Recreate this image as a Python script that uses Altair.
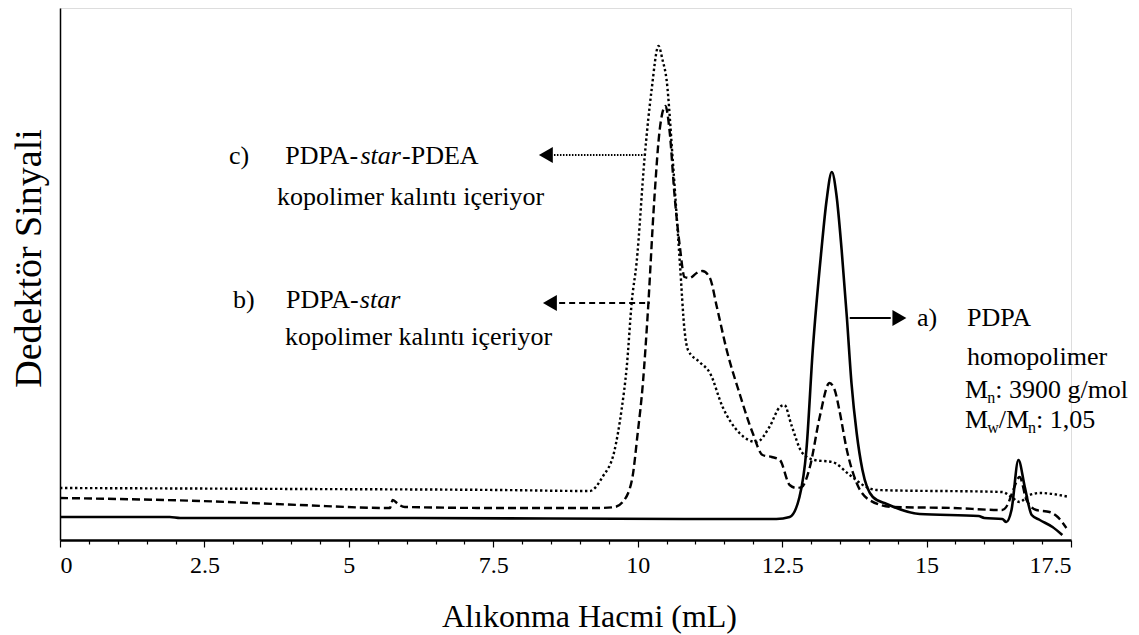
import altair as alt
import pandas as pd

# ---------------- data ----------------
# a) PDPA homopolimer (solid)
vol_a = [0.0, 1.9, 2.08, 5.88, 11.07, 12.40, 12.63, 12.80, 12.92, 13.03, 13.18, 13.27,
         13.36, 13.44, 13.53, 13.62, 13.70, 13.79, 13.89, 14.07, 14.31, 14.88, 15.9,
         16.0, 16.31, 16.38, 16.47, 16.59, 16.70, 16.82, 16.96, 17.18, 17.35]
sig_a = [23, 23, 22, 22, 21, 21, 23, 43, 90, 190, 290, 340,
         368, 345, 290, 223, 157, 107, 70, 43, 36, 26, 24,
         22, 21, 18, 30, 80, 53, 25, 20, 13, 5]

# b) PDPA-star (dashed)
vol_b = [0.0, 2.42, 4.15, 5.71, 5.76, 5.85, 5.97, 7.61, 9.34, 9.60, 9.74, 9.90, 10.0,
         10.09, 10.17, 10.29, 10.38, 10.48, 10.55, 10.64, 10.73, 10.81, 10.90, 11.02,
         11.12, 11.25, 11.37, 11.54, 11.76, 11.99, 12.16, 12.32, 12.46, 12.63, 12.75,
         12.84, 12.98, 13.15, 13.32, 13.41, 13.49, 13.62, 13.79, 14.01, 14.41, 15.45,
         16.31, 16.40, 16.50, 16.61, 16.73, 16.90, 17.13, 17.27, 17.42]
sig_b = [42, 39, 35, 32, 40, 36, 33, 32, 32, 33, 38, 60, 107,
         157, 223, 343, 410, 434, 410, 343, 293, 263, 262, 267,
         269, 262, 233, 190, 147, 107, 85, 83, 80, 55, 52,
         53, 73, 123, 157, 150, 130, 90, 57, 40, 33, 32,
         30, 35, 50, 63, 40, 30, 28, 23, 12]

# c) PDPA-star-PDEA (dotted)
vol_c = [0.0, 4.15, 7.61, 9.17, 9.39, 9.60, 9.72, 9.81, 9.90, 9.98, 10.12, 10.24,
         10.36, 10.43, 10.50, 10.61, 10.73, 10.81, 10.87, 11.07, 11.25, 11.47, 11.76,
         12.06, 12.28, 12.46, 12.54, 12.66, 12.85, 13.06, 13.37, 13.67, 13.96, 14.13,
         16.31, 16.47, 16.61, 16.78, 16.96, 17.47]
sig_c = [52, 51, 50, 49, 63, 90, 130, 173, 240, 277, 383, 450,
         494, 480, 460, 377, 277, 210, 190, 178, 167, 133, 107,
         98, 113, 133, 135, 115, 87, 80, 78, 65, 53, 50,
         48, 43, 38, 45, 47, 43]

# axis ticks
major_ticks = [0, 2.5, 5, 7.5, 10, 12.5, 15, 17.5]
minor_step = 0.5

# annotation texts (x in mL, y in signal units)
ann_text = ["c)", "PDPA-", "-PDEA", "kopolimer kalıntı içeriyor",
            "b)", "PDPA-", "kopolimer kalıntı içeriyor",
            "a)", "PDPA", "homopolimer", "M", ": 3900 g/mol", "M", "/M", ": 1,05"]
ann_x = [2.925, 3.90, 5.92, 3.756,
         2.995, 3.912, 3.895,
         14.834, 15.700, 15.700, 15.665, 16.188, 15.665, 16.25, 16.894]
ann_y = [376, 376, 376, 335,
         232, 232, 195,
         214, 214, 175, 142, 142, 112, 112, 112]

ital_text = ["star", "star"]
ital_x = [5.2, 5.19]
ital_y = [376, 232]

sub_text = ["n", "w", "n"]
sub_x = [16.05, 16.05, 16.756]
sub_y = [137, 107, 107]

# arrows: shaft start/end and head
arrow_id = ["c", "b", "a"]
arrow_x1 = [8.55, 8.64, 13.67]
arrow_x2 = [10.12, 10.21, 14.38]
arrow_y = [385, 237, 222]
head_x = [8.41, 8.48, 14.53]
head_shape = ["triangle-left", "triangle-left", "triangle-right"]

# ---------------- chart ----------------
FONT = "Liberation Serif, Times New Roman, serif"
W, H = 1011, 532

x_scale = alt.Scale(domain=[0, 17.5], nice=False, zero=False)
y_scale = alt.Scale(domain=[0, 532], nice=False, zero=False)

tick_values = [i * minor_step for i in range(int(17.5 / minor_step) + 1)]
major_test = "indexof(" + str(major_ticks) + ", datum.value) >= 0"

x_axis = alt.Axis(
    values=tick_values,
    labelExpr=major_test + " ? toString(datum.value) : ''",
    labelOverlap=False,
    labelFont=FONT, labelFontSize=24, labelColor="black", labelPadding=6,
    tickColor="black", tickWidth=1.2,
    tickSize={"condition": {"test": major_test, "value": 7}, "value": 4},
    domainColor="black", domainWidth=2.5, grid=False,
    title="Alıkonma Hacmi (mL)", titleFont=FONT, titleFontSize=32,
    titleFontWeight="normal", titleColor="black",
    titleX=529, titleY=86, titleAlign="center", titleBaseline="alphabetic",
)
y_axis = alt.Axis(
    ticks=False, labels=False, grid=False, domainColor="black", domainWidth=1.5,
    title="Dedektör Sinyali", titleFont=FONT, titleFontSize=38,
    titleFontWeight="normal", titleColor="black", titleAngle=270,
    titleX=-31, titleY=250, titleAlign="center", titleBaseline="middle",
)

X = alt.X("v:Q", scale=x_scale, axis=x_axis)
Y = alt.Y("s:Q", scale=y_scale, axis=y_axis)


def frame(xs, ys):
    return pd.DataFrame({"v": xs, "s": ys})


line_a = alt.Chart(frame(vol_a, sig_a)).mark_line(
    color="black", strokeWidth=2.6, interpolate="monotone"
).encode(x=X, y=Y)

line_b = alt.Chart(frame(vol_b, sig_b)).mark_line(
    color="black", strokeWidth=2.4, strokeDash=[8, 4], interpolate="monotone"
).encode(x=X, y=Y)

line_c = alt.Chart(frame(vol_c, sig_c)).mark_line(
    color="black", strokeWidth=2.4, strokeDash=[2.4, 2.6], interpolate="monotone"
).encode(x=X, y=Y)

arrows = pd.DataFrame({"id": arrow_id, "v": arrow_x1, "v2": arrow_x2, "s": arrow_y})

shaft_c = alt.Chart(arrows[arrows.id == "c"]).mark_rule(
    color="black", strokeWidth=1.8, strokeDash=[1.5, 1.5]
).encode(x=X, x2="v2:Q", y=Y)
shaft_b = alt.Chart(arrows[arrows.id == "b"]).mark_rule(
    color="black", strokeWidth=1.8, strokeDash=[6, 4]
).encode(x=X, x2="v2:Q", y=Y)
shaft_a = alt.Chart(arrows[arrows.id == "a"]).mark_rule(
    color="black", strokeWidth=2.0
).encode(x=X, x2="v2:Q", y=Y)

heads = alt.Chart(
    pd.DataFrame({"v": head_x, "s": arrow_y, "shape": head_shape})
).mark_point(filled=True, color="black", size=260, opacity=1).encode(
    x=X, y=Y, shape=alt.Shape("shape:N", scale=None, legend=None),
)

texts = alt.Chart(pd.DataFrame({"v": ann_x, "s": ann_y, "t": ann_text})).mark_text(
    font=FONT, fontSize=26, align="left", baseline="alphabetic", color="black"
).encode(x=X, y=Y, text="t:N")

itals = alt.Chart(pd.DataFrame({"v": ital_x, "s": ital_y, "t": ital_text})).mark_text(
    font=FONT, fontSize=26, fontStyle="italic", align="left", baseline="alphabetic",
    color="black"
).encode(x=X, y=Y, text="t:N")

subs = alt.Chart(pd.DataFrame({"v": sub_x, "s": sub_y, "t": sub_text})).mark_text(
    font=FONT, fontSize=16, align="left", baseline="alphabetic", color="black"
).encode(x=X, y=Y, text="t:N")

chart = alt.layer(
    line_a, line_b, line_c, shaft_c, shaft_b, shaft_a, heads, texts, itals, subs
).properties(
    width=W, height=H,
    autosize=alt.AutoSizeParams(type="none"),
    padding={"left": 60, "top": 8, "right": 68, "bottom": 95},
    background="white",
).configure_view(stroke=None).configure(font=FONT).configure_axis(
    labelFont=FONT, titleFont=FONT
).configure_text(font=FONT)

chart.save("out.html", embed_options={"renderer": "svg", "actions": False})
